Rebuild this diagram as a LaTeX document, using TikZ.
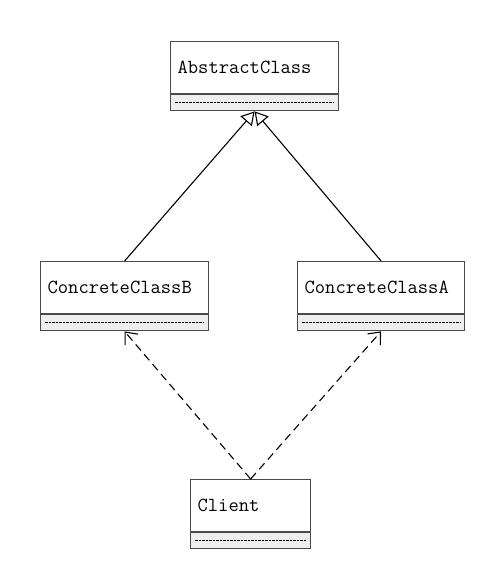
\documentclass[tikz,border=0pt]{standalone}
\usepackage{fontspec}
\usepackage{tikz}
\usetikzlibrary{arrows.meta,positioning}
\definecolor{softgray}{HTML}{EEEEEE}
\definecolor{boxborder}{HTML}{4A4A4A}
\begin{document}
\begin{tikzpicture}[x=1pt,y=-1pt,>=Latex]
\tikzstyle{cls}=[draw=boxborder,line width=1.2pt,fill=white,anchor=north west,align=left,text width=154pt,inner xsep=7pt,minimum height=52pt,font=\fontsize{20}{24}\selectfont\ttfamily]
\tikzstyle{cmp}=[draw=boxborder,line width=1.2pt,fill=softgray,minimum width=168pt,minimum height=16pt,inner sep=0pt]
\tikzstyle{sep}=[line width=0.9pt,dash pattern=on 2.5pt off 1pt]
\tikzstyle{inherit}=[line width=1.1pt,-{Triangle[open,length=13pt,width=15pt,line width=1.1pt]}]
\tikzstyle{uses}=[line width=1.1pt,dash pattern=on 8pt off 5pt,-{Straight Barb[length=10pt,width=17pt,line width=1.1pt]}]
\useasboundingbox (0,0) rectangle (496,569);
% classes
\node[cls] (abs) at (170,41) {AbstractClass};
\node[cmp,below=0pt of abs] (abscmp) {};
\node[cls] (conb) at (40,261) {ConcreteClassB};
\node[cmp,below=0pt of conb] (conbcmp) {};
\node[cls,text width=153pt] (cona) at (297,261) {ConcreteClassA};
\node[cmp,below=0pt of cona,minimum width=167pt] (conacmp) {};
\node[cls,text width=106pt] (client) at (190,479) {Client};
\node[cmp,below=0pt of client,minimum width=120pt] (clientcmp) {};
\foreach \c in {abscmp,conbcmp,conacmp,clientcmp}
  \draw[sep] ([xshift=5pt]\c.west)--([xshift=-5pt]\c.east);
% relations
\draw[inherit] (conb.north)--(abscmp.south);
\draw[inherit] (cona.north)--(abscmp.south);
\draw[uses] (client.north)--(conbcmp.south);
\draw[uses] (client.north)--(conacmp.south);
\end{tikzpicture}
\end{document}
